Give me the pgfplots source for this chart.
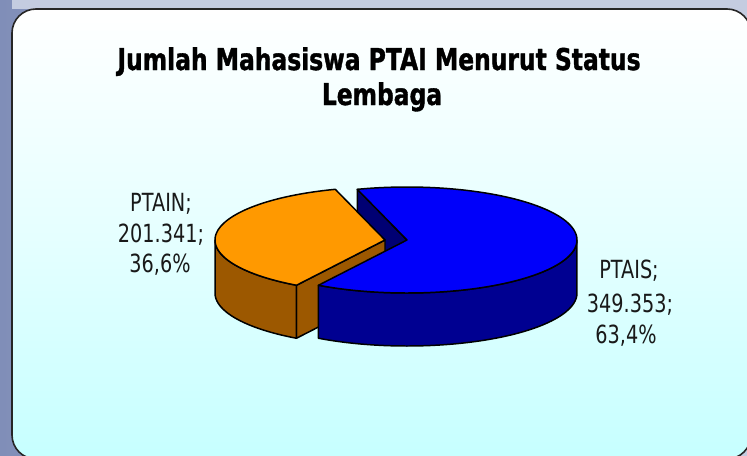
\documentclass[border=0pt]{standalone}
\usepackage{fontspec}
\setmainfont{DejaVu Sans}
\newfontfamily\lblfont[FakeStretch=0.77]{DejaVu Sans}
\newfontfamily\ttlfont[FakeStretch=0.78,FakeBold=1.2]{DejaVu Sans Bold}
\usepackage{pgfplots}
\pgfplotsset{compat=1.18}
\usepackage{pgfplotstable}

\definecolor{orTop}{RGB}{255,153,0}
\definecolor{orSide}{RGB}{156,88,0}
\definecolor{blTop}{RGB}{0,0,250}
\definecolor{blSide}{RGB}{0,0,145}
\definecolor{blBack}{RGB}{0,0,115}
\definecolor{panelBot}{RGB}{198,255,255}
\definecolor{outerA}{RGB}{128,142,184}
\definecolor{outerB}{RGB}{196,204,224}
\definecolor{txt}{RGB}{25,25,25}

\pgfplotstableread{
label value
PTAIN 201341
PTAIS 349353
}\piedata
\pgfplotstablegetelem{0}{value}\of\piedata\let\vA\pgfplotsretval
\pgfplotstablegetelem{1}{value}\of\piedata\let\vB\pgfplotsretval

% pie geometry (pixels)
\def\cbx{407}\def\cox{385}\def\cy{240}
\def\rx{170}\def\ry{53}\def\dd{53}
\def\aS{107}
\edef\aM{\fpeval{\aS+360*\vA/(\vA+\vB)}}
\edef\aE{\fpeval{\aS+360}}
% rim points
\edef\bSx{\fpeval{\cbx+\rx*cosd(\aS)}}\edef\bSy{\fpeval{\cy-\ry*sind(\aS)}}
\edef\bSyd{\fpeval{\cy-\ry*sind(\aS)+\dd}}
\edef\oMx{\fpeval{\cox+\rx*cosd(\aM)}}\edef\oMy{\fpeval{\cy-\ry*sind(\aM)}}
\edef\oMyd{\fpeval{\cy-\ry*sind(\aM)+\dd}}
\edef\cyd{\fpeval{\cy+\dd}}

\begin{document}
\begin{tikzpicture}
\useasboundingbox (0,0) rectangle (747bp,-456bp);
\shade[left color=outerA, right color=outerB] (0,0) rectangle (747bp,-456bp);
\fill[outerB] (12bp,0) rectangle (747bp,-9bp);
\draw[rounded corners=24bp, line width=1.6bp, draw=black!85, top color=white, bottom color=panelBot, middle color=white!55!panelBot]
  (12bp,-9bp) rectangle (751bp,-459bp);
\begin{axis}[anchor=north west, at={(0,0)}, x=1bp, y=1bp, y dir=reverse,
  xmin=0, xmax=747, ymin=0, ymax=456, hide axis, clip=false]
% blue back radial face (end of blue slice)
\addplot[fill=blBack, draw=black, line width=1.5pt, line join=round]
  coordinates {(\cbx,\cy) (\bSx,\bSy) (\bSx,\bSyd) (\cbx,\cyd)} -- cycle;
% orange radial face
\addplot[fill=orSide, draw=black, line width=1.5pt, line join=round]
  coordinates {(\cox,\cy) (\oMx,\oMy) (\oMx,\oMyd) (\cox,\cyd)} -- cycle;
% orange outer side
\addplot[fill=orSide, draw=black, line width=1.5pt, line join=round, domain=0:2, samples=241]
  ({\cox+\rx*cos(\aM+(180-\aM)*min(x,2-x))},{\cy-\ry*sin(\aM+(180-\aM)*min(x,2-x))+\dd*(x>1)}) -- cycle;
% orange top
\addplot[fill=orTop, draw=black, line width=1.5pt, line join=round, domain=\aS:\aM, samples=90]
  ({\cox+\rx*cos(x)},{\cy-\ry*sin(x)}) -- (axis cs:\cox,\cy) -- cycle;
% blue outer side
\addplot[fill=blSide, draw=black, line width=1.5pt, line join=round, domain=0:2, samples=241]
  ({\cbx+\rx*cos(\aM+(360-\aM)*min(x,2-x))},{\cy-\ry*sin(\aM+(360-\aM)*min(x,2-x))+\dd*(x>1)}) -- cycle;
% blue top
\addplot[fill=blTop, draw=black, line width=1.5pt, line join=round, domain=\aM:\aE, samples=150]
  ({\cbx+\rx*cos(x)},{\cy-\ry*sin(x)}) -- (axis cs:\cbx,\cy) -- cycle;

% title
\node[anchor=base, font=\ttlfont\fontsize{30bp}{35bp}\selectfont] at (axis cs:379,70) {Jumlah Mahasiswa PTAI Menurut Status};
\node[anchor=base, font=\ttlfont\fontsize{30bp}{35bp}\selectfont] at (axis cs:382,105) {Lembaga};
% labels
\node[anchor=base, text=txt, font=\lblfont\fontsize{25bp}{31bp}\selectfont] at (axis cs:161,211) {PTAIN;};
\node[anchor=base, text=txt, font=\lblfont\fontsize{25bp}{31bp}\selectfont] at (axis cs:161,242) {201.341;};
\node[anchor=base, text=txt, font=\lblfont\fontsize{25bp}{31bp}\selectfont] at (axis cs:160,272) {36,6\%};
\node[anchor=base, text=txt, font=\lblfont\fontsize{25bp}{31bp}\selectfont] at (axis cs:629,278) {PTAIS;};
\node[anchor=base, text=txt, font=\lblfont\fontsize{25bp}{31bp}\selectfont] at (axis cs:630,312) {349.353;};
\node[anchor=base, text=txt, font=\lblfont\fontsize{25bp}{31bp}\selectfont] at (axis cs:626,343) {63,4\%};
\end{axis}
\end{tikzpicture}
\end{document}
